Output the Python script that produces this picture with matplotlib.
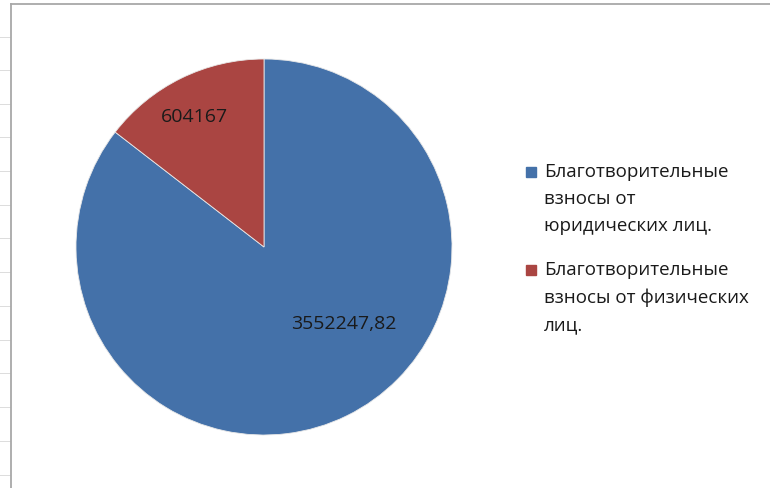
import matplotlib
matplotlib.use("Agg")
import matplotlib.pyplot as plt
from matplotlib.patches import Rectangle
from matplotlib.lines import Line2D

plt.rcParams['font.family'] = ['Open Sans', 'DejaVu Sans']

categories = ['Благотворительные\nвзносы от\nюридических лиц.',
              'Благотворительные\nвзносы от физических\nлиц.']
values = [3552247.82, 604167]
value_labels = ['3552247,82', '604167']
colors = ['#4471A9', '#AA4542']

W, H = 770, 489
fig = plt.figure(figsize=(W / 100, H / 100), dpi=100)
fig.patch.set_facecolor('white')

# excel sheet edges around the chart object
for y in [38, 71, 105, 138, 172, 206, 239, 273, 307, 341, 374, 408, 442, 476]:
    fig.add_artist(Line2D([0, 10 / W], [1 - y / H, 1 - y / H], color='#dcdcdc', lw=0.7))
fig.add_artist(Line2D([11 / W, 11 / W], [0, 1 - 5 / H], color='#a8a8a8', lw=1.3))
fig.add_artist(Line2D([11 / W, 1], [1 - 5 / H, 1 - 5 / H], color='#a8a8a8', lw=1.3))

cx, cy, r = 264, 248, 188
ax = fig.add_axes([(cx - r) / W, (H - cy - r) / H, 2 * r / W, 2 * r / H])
wedges, _ = ax.pie(values, colors=colors, startangle=90, counterclock=False,
                   wedgeprops=dict(edgecolor='#e8e8e8', linewidth=0.6))
ax.set_xlim(-1, 1)
ax.set_ylim(-1, 1)
ax.set_aspect('equal')
ax.axis('off')

label_pos = [(0.426, -0.404), (-0.37, 0.697)]
for (lx, ly), txt in zip(label_pos, value_labels):
    ax.text(lx, ly, txt, ha='center', va='center', fontsize=14, color='#1a1a1a')

# legend
entry_top = [163, 261]
for top, lab, col in zip(entry_top, categories, colors):
    fig.add_artist(Rectangle((526 / W, 1 - (top + 15) / H), 10 / W, 10 / H,
                             transform=fig.transFigure, color=col))
    fig.text(544 / W, 1 - top / H, lab, ha='left', va='top', fontsize=13.5,
             color='#1a1a1a', linespacing=1.65)

fig.savefig('out.png', dpi=100)
